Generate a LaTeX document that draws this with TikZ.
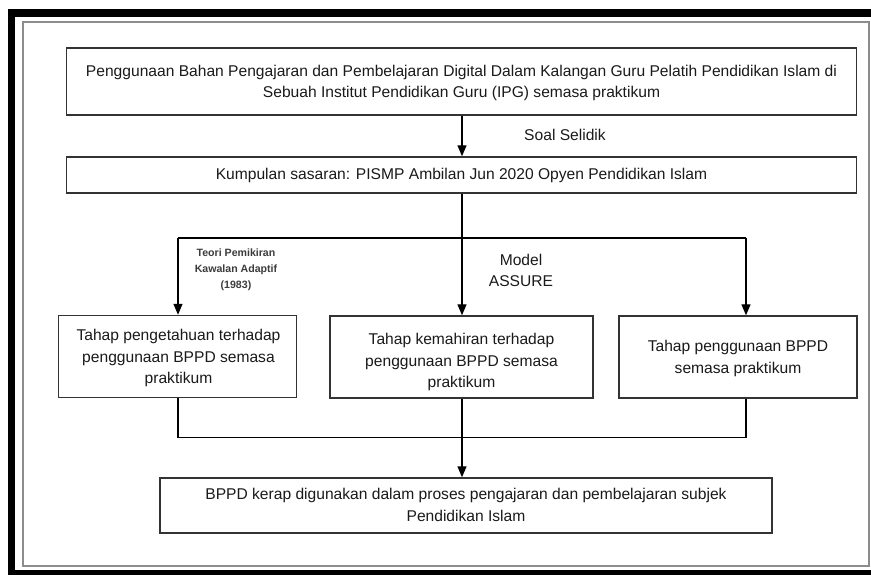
\documentclass[tikz,border=0pt]{standalone}
\usepackage{fontspec}
\setmainfont{Liberation Sans}
\usetikzlibrary{arrows.meta}
\definecolor{boxc}{HTML}{333333}
\definecolor{txtc}{HTML}{1A1A1A}
\definecolor{framec}{HTML}{8C8C8C}
\begin{document}
\begin{tikzpicture}[x=1pt,y=-1pt]
\tikzset{
  boxn/.style={draw=boxc,line width=1.4pt,rectangle,inner sep=0pt,fill=white},
  txt/.style={align=center,font=\fontsize{15.6}{21.8}\selectfont,text=txtc,inner sep=0pt},
  small/.style={align=center,font=\bfseries\fontsize{10.6}{16}\selectfont,text=txtc!85!white,inner sep=0pt},
  conn/.style={line width=1.3pt,draw=black},
  arr/.style={conn,-{Triangle[width=9pt,length=11pt]}},
}
\useasboundingbox (0,0) rectangle (871,574);
\clip (0,0) rectangle (871,574);
% frames
\draw[line width=7.5pt,black] (11.5,13) rectangle (885,573.5);
\draw[line width=2pt,framec] (23,21.5) rectangle (868.5,566);
% boxes
\node[boxn,minimum width=790pt,minimum height=67pt] (b1) at (461.5,81.5) {};
\node[txt] (t1) at (461.5,83) {Penggunaan Bahan Pengajaran dan Pembelajaran Digital Dalam Kalangan Guru Pelatih Pendidikan Islam di\\Sebuah Institut Pendidikan Guru (IPG) semasa praktikum};
\node[boxn,minimum width=790pt,minimum height=36pt] (b2) at (461.5,175) {};
\node[txt] (t2) at (461.5,175.5) {Kumpulan sasaran: PISMP Ambilan Jun 2020 Opyen Pendidikan Islam};
\node[boxn,minimum width=238pt,minimum height=82pt] (b3) at (177.5,356.5) {};
\node[txt] (t3) at (178.5,358) {Tahap pengetahuan terhadap\\penggunaan BPPD semasa\\praktikum};
\node[boxn,minimum width=263pt,minimum height=82pt] (b4) at (461.5,357) {};
\node[txt] (t4) at (461.5,362) {Tahap kemahiran terhadap\\penggunaan BPPD semasa\\praktikum};
\node[boxn,minimum width=238pt,minimum height=82pt] (b5) at (738,357) {};
\node[txt] (t5) at (738,358.5) {Tahap penggunaan BPPD\\semasa praktikum};
\node[boxn,minimum width=612pt,minimum height=55pt] (b6) at (466,505.5) {};
\node[txt] (t6) at (466,505) {BPPD kerap digunakan dalam proses pengajaran dan pembelajaran subjek\\Pendidikan Islam};
% connectors
\draw[arr] (b1.south -| 462,0) coordinate (a1) -- (a1 |- b2.north);
\coordinate (jl) at (178,238);
\coordinate (jr) at (746,238);
\draw[arr] (462,0 |- b2.south) coordinate (a2) -- (a2 |- b4.north);
\draw[conn] (jl) -- (jr);
\draw[arr] (jl) -- (jl |- b3.north);
\draw[arr] (jr) -- (jr |- b5.north);
\coordinate (bl) at (178,437.5);
\coordinate (br) at (746,437.5);
\draw[conn] (bl |- b3.south) -- (bl) -- (br) -- (br |- b5.south);
\draw[arr] (462,0 |- b4.south) coordinate (a3) -- (a3 |- b6.north);
% labels
\node[txt] (l1) at (565,135) {Soal Selidik};
\node[txt,font=\fontsize{15.6}{21}\selectfont] (l2) at (521,270.5) {Model\\ASSURE};
\node[small] (l3) at (236,270) {Teori Pemikiran\\Kawalan Adaptif\\(1983)};
\end{tikzpicture}
\end{document}
